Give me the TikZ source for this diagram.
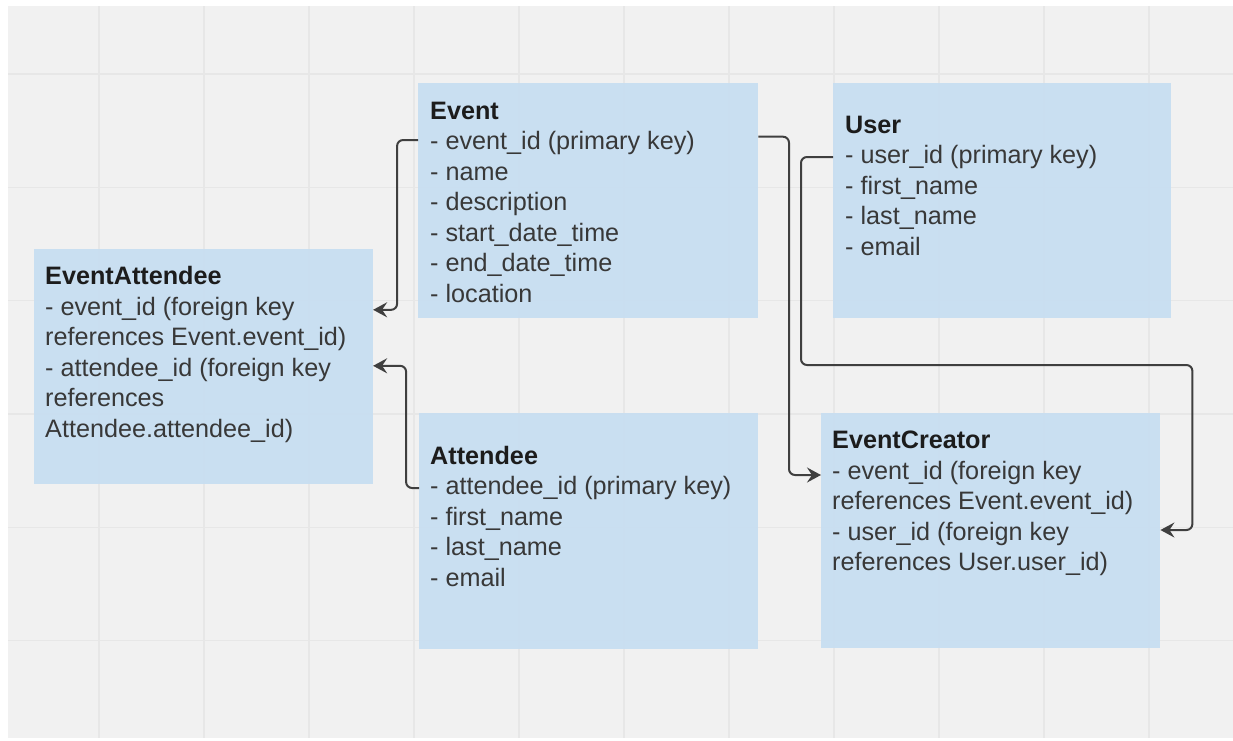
\documentclass[tikz,border=0pt]{standalone}
\usepackage{fontspec}
\setmainfont{Liberation Sans}
\usetikzlibrary{arrows.meta}

\definecolor{canvasbg}{HTML}{F1F1F1}
\definecolor{gridline}{HTML}{E7E7E7}
\definecolor{tablefill}{RGB}{199,222,241}
\definecolor{bodytext}{HTML}{383838}
\definecolor{headtext}{HTML}{1C1C1C}
\definecolor{wire}{HTML}{3F3F3F}

% one entity table: bold heading followed by attribute lines
\newcommand{\tablelines}[2]{\vtop{\hbox{\color{headtext}\bfseries #1}#2}}
\newcommand{\attr}[1]{\hbox{#1}}

\tikzset{
  tablebox/.style={rectangle, draw=none, fill=tablefill, fill opacity=0.93,
    inner sep=0pt, anchor=north west},
  tabletext/.style={anchor=base west, inner sep=0pt, text=bodytext,
    font=\fontsize{25.2pt}{30.5pt}\selectfont},
  conn/.style={draw=wire, line width=2pt, rounded corners=6pt,
    -{Stealth[length=14pt,width=15pt,inset=5pt]}},
}

\begin{document}
\begin{tikzpicture}[x=1pt, y=-1pt]
  \useasboundingbox (0,0) rectangle (1233,740);

  % canvas and grid
  \fill[canvasbg] (8,6) rectangle (1233,738);
  \foreach \k in {0,...,10}
    \draw[gridline, line width=1.2pt] ({99+105*\k},6) -- ({99+105*\k},738);
  \foreach \k in {0,...,5}
    \draw[gridline, line width=1.2pt] (8,{74+113.3*\k}) -- (1233,{74+113.3*\k});

  % table backgrounds
  \node[tablebox, minimum width=339.4pt, minimum height=235pt] (ea) at (33.3,248.3) {};
  \node[tablebox, minimum width=340pt, minimum height=235pt] (event) at (418,83) {};
  \node[tablebox, minimum width=338pt, minimum height=235pt] (user) at (833,83) {};
  \node[tablebox, minimum width=339pt, minimum height=235.5pt] (att) at (419,413) {};
  \node[tablebox, minimum width=339pt, minimum height=234.5pt] (creator) at (821,413) {};

  % table contents
  \node[tabletext] (eatext) at (45,284.5) {\tablelines{EventAttendee}{%
    \attr{- event\_id (foreign key}%
    \attr{references Event.event\_id)}%
    \attr{- attendee\_id (foreign key}%
    \attr{references}%
    \attr{Attendee.attendee\_id)}}};
  \node[tabletext] (eventtext) at (430,119) {\tablelines{Event}{%
    \attr{- event\_id (primary key)}%
    \attr{- name}%
    \attr{- description}%
    \attr{- start\_date\_time}%
    \attr{- end\_date\_time}%
    \attr{- location}}};
  \node[tabletext] (usertext) at (845,133) {\tablelines{User}{%
    \attr{- user\_id (primary key)}%
    \attr{- first\_name}%
    \attr{- last\_name}%
    \attr{- email}}};
  \node[tabletext] (atttext) at (430,464) {\tablelines{Attendee}{%
    \attr{- attendee\_id (primary key)}%
    \attr{- first\_name}%
    \attr{- last\_name}%
    \attr{- email}}};
  \node[tabletext] (creatortext) at (832,448.5) {\tablelines{EventCreator}{%
    \attr{- event\_id (foreign key}%
    \attr{references Event.event\_id)}%
    \attr{- user\_id (foreign key}%
    \attr{references User.user\_id)}}};

  % foreign key references
  \draw[conn] ([yshift=-57pt]event.north west)
    -| ([xshift=24pt,yshift=-61.5pt]ea.north east)
    -- ([yshift=-61.5pt]ea.north east);
  \draw[conn] ([yshift=-75pt]att.north west)
    -| ([xshift=33pt,yshift=-117.5pt]ea.north east)
    -- ([yshift=-117.5pt]ea.north east);
  \draw[conn] ([yshift=-53.7pt]event.north east)
    -| ([xshift=-32pt,yshift=-62pt]creator.north west)
    -- ([yshift=-62pt]creator.north west);
  \draw[conn] ([yshift=-74pt]user.north west)
    -| ++(-32,208)
    -| ([xshift=32pt,yshift=-117pt]creator.north east)
    -- ([yshift=-117pt]creator.north east);
\end{tikzpicture}
\end{document}
